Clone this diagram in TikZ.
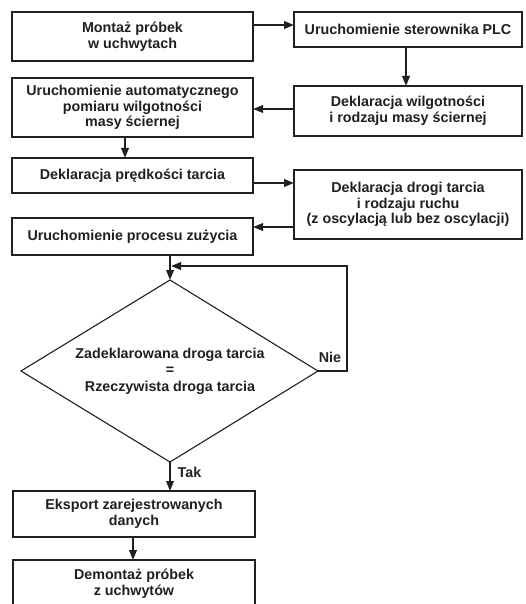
\documentclass[tikz,border=0pt]{standalone}
\usepackage{fontspec}
\setmainfont{Liberation Sans}
\usetikzlibrary{arrows.meta}
\definecolor{ink}{HTML}{231F20}
\begin{document}
\begin{tikzpicture}[x=1pt,y=-1pt,
  box/.style={draw=ink, line width=1.1pt, text=ink, align=center, inner sep=0pt, outer sep=0pt},
  arr/.style={draw=ink, line width=2pt, -{Triangle[length=10pt,width=7.5pt]}},
  lbl/.style={text=ink, inner sep=0pt},
  font=\fontsize{14.3}{15.8}\selectfont\bfseries]
\useasboundingbox (0,0) rectangle (526,604);
\fill[white] (0,0) rectangle (526,604);
\clip (0,0) rectangle (526,604);
% boxes
\node[box, minimum width=241pt, minimum height=49pt] (b1) at (132.5,36.5) {Montaż próbek\\w uchwytach};
\node[box, minimum width=228pt, minimum height=35pt] (b2) at (408,29.5) {Uruchomienie sterownika PLC};
\node[box, minimum width=241pt, minimum height=59pt] (b3) at (132.5,107.5) {Uruchomienie automatycznego\\pomiaru wilgotności\\masy ściernej};
\node[box, minimum width=228pt, minimum height=50pt] (b4) at (408,111) {Deklaracja wilgotności\\i rodzaju masy ściernej};
\node[box, minimum width=241pt, minimum height=35pt] (b5) at (132.5,175.5) {Deklaracja prędkości tarcia};
\node[box, minimum width=228pt, minimum height=69pt] (b6) at (408,204.5) {Deklaracja drogi tarcia\\i rodzaju ruchu\\(z oscylacją lub bez oscylacji)};
\node[box, minimum width=241pt, minimum height=37pt] (b7) at (132.5,236.5) {Uruchomienie procesu zużycia};
\node[box, minimum width=242pt, minimum height=46pt] (b8) at (134,514) {Eksport zarejestrowanych\\danych};
\node[box, minimum width=242pt, minimum height=48pt] (b9) at (134,584) {Demontaż próbek\\z uchwytów};
% decision
\coordinate (dtop) at (170,280);
\coordinate (dright) at (318,371);
\coordinate (dbot) at (170,462);
\coordinate (dleft) at (21,371);
\draw[ink, line width=1.1pt] (dtop) -- (dright) -- (dbot) -- (dleft) -- cycle;
\node[lbl, align=center, font=\fontsize{14.3}{16.5}\selectfont\bfseries] (d) at (170,371) {Zadeklarowana droga tarcia\\=\\Rzeczywista droga tarcia};
\coordinate (merge) at (171,266);
% connectors
\draw[arr] (b1.east |- 0,25) -- (b2.west |- 0,25);
\draw[arr] (b2.south -| 406,0) -- (b4.north -| 406,0);
\draw[arr] (b4.west |- 0,109) -- (b3.east |- 0,109);
\draw[arr] (b3.south -| 125,0) -- (b5.north -| 125,0);
\draw[arr] (b5.east |- 0,183) -- (b6.west |- 0,183);
\draw[arr] (b6.west |- 0,227) -- (b7.east |- 0,227);
\draw[arr] (b7.south -| dtop) -- (dtop);
\draw[arr] (dright) -- ++(29,0) |- (merge);
\draw[arr] (dbot) -- (b8.north -| dbot);
\draw[arr] (b8.south -| 133,0) -- (b9.north -| 133,0);
% labels
\node[lbl] (nie) at (330,357) {Nie};
\node[lbl] (tak) at (189.5,472) {Tak};
\end{tikzpicture}
\end{document}
